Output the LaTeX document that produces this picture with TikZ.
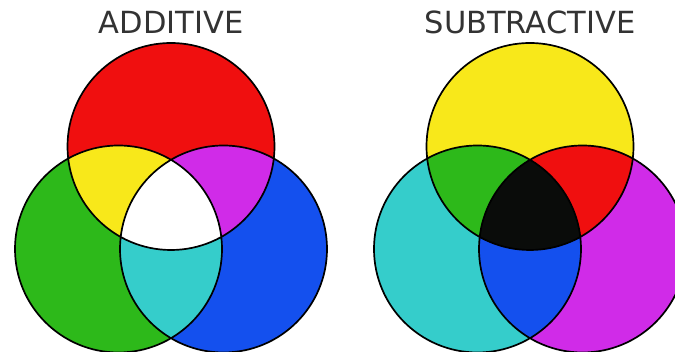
\documentclass[tikz,border=0pt]{standalone}
\usepackage{fontspec}
\setmainfont{DejaVu Sans}
\definecolor{cred}{HTML}{F00F0F}
\definecolor{cgreen}{HTML}{2DB91A}
\definecolor{cblue}{HTML}{1450EE}
\definecolor{cyellow}{HTML}{F8E81A}
\definecolor{cmagenta}{HTML}{D02BE8}
\definecolor{ccyan}{HTML}{35CDCB}
\definecolor{cblack}{HTML}{0A0C0A}
\tikzset{ring/.style={draw=black, line width=1.7pt}}
\begin{document}
\begin{tikzpicture}[x=1pt, y=1pt, every node/.style={font=\fontsize{30.5}{32}\selectfont, text=black!80}]
  \useasboundingbox (0,0) rectangle (675,352);
  \foreach \x/\lab/\ca/\cb/\cc/\cab/\cac/\cbc/\cabc in {171/ADDITIVE/cred/cgreen/cblue/cyellow/cmagenta/ccyan/white, 530/SUBTRACTIVE/cyellow/ccyan/cmagenta/cgreen/cred/cblue/cblack} {
    \begin{scope}[xshift=\x pt]
      \coordinate (t) at (0,205.5);
      \coordinate (l) at (-52.5,103);
      \coordinate (r) at (52.5,103);
      \fill[\ca] (t) circle (103.5);
      \fill[\cb] (l) circle (103.5);
      \fill[\cc] (r) circle (103.5);
      \begin{scope}
        \clip (t) circle (103.5);
        \fill[\cab] (l) circle (103.5);
        \fill[\cac] (r) circle (103.5);
        \clip (l) circle (103.5);
        \fill[\cabc] (r) circle (103.5);
      \end{scope}
      \begin{scope}
        \clip (l) circle (103.5);
        \fill[\cbc] (r) circle (103.5);
        \clip (t) circle (103.5);
        \fill[\cabc] (r) circle (103.5);
      \end{scope}
      \draw[ring] (t) circle (103.5) (l) circle (103.5) (r) circle (103.5);
      \node (title) at (0,330) {\lab};
    \end{scope}
  }
\end{tikzpicture}
\end{document}
